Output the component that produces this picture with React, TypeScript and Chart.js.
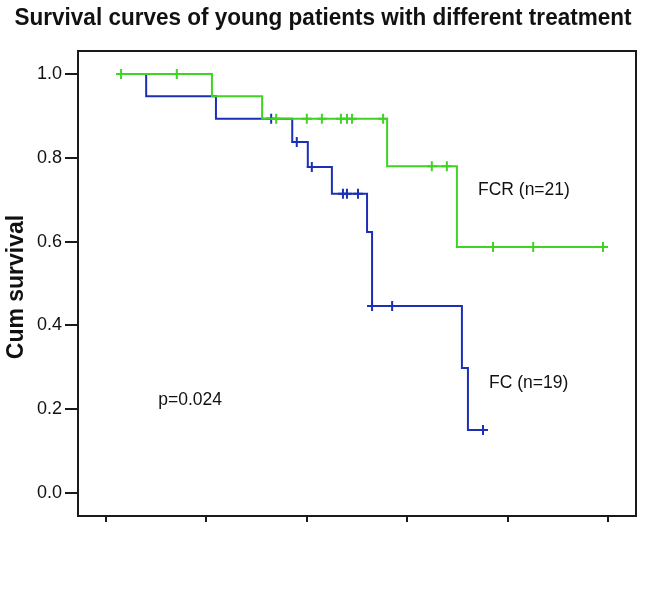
import React, { useEffect, useRef } from "react";
import { Chart, registerables } from "chart.js";

Chart.register(...registerables);

// ---- data ----
const chartTitle = "Survival curves of young patients with different treatment";
const yAxisTitle = "Cum survival";
const xTickValues = [0, 20, 40, 60, 80, 100];
const yTickValues = [0, 0.2, 0.4, 0.6, 0.8, 1.0];

// FCR group (green)
const fcrTimes = [2.4, 21.1, 31.1, 56.0, 69.9, 99.0];
const fcrSurvival = [1.0, 0.947, 0.893, 0.78, 0.587, 0.587];
const fcrCensorTimes = [3.0, 14.1, 33.9, 40.0, 43.0, 46.8, 48.0, 49.0, 55.2, 64.9, 67.9, 77.1, 85.1, 99.0];

// FC group (blue)
const fcTimes = [2.4, 8.0, 21.9, 37.1, 40.2, 45.0, 52.0, 53.0, 70.9, 72.1, 75.1];
const fcSurvival = [1.0, 0.947, 0.893, 0.838, 0.778, 0.714, 0.623, 0.446, 0.298, 0.15, 0.15];
const fcCensorTimes = [32.9, 38.0, 41.0, 47.2, 48.0, 50.2, 53.0, 57.0, 75.1];

const noteTexts = ["FCR (n=21)", "FC (n=19)", "p=0.024"];

const GREEN = "#3fd423";
const BLUE = "#1b30b5";

function stepValue(times: number[], surv: number[], t: number): number {
  let v = surv[0];
  for (let i = 0; i < times.length; i++) {
    if (times[i] <= t + 1e-9) v = surv[i];
  }
  return v;
}

const framePlugin = {
  id: "frameAndNotes",
  afterDraw(chart: any) {
    const { ctx, chartArea, scales } = chart;
    const { left, top, right, bottom } = chartArea;
    ctx.save();
    ctx.strokeStyle = "#1a1a1a";
    ctx.lineWidth = 2;
    ctx.strokeRect(left, top, right - left, bottom - top);

    // annotations anchored in data coordinates
    const xs = scales.x;
    const ys = scales.y;
    const anchors = [
      { x: 74.1, y: 0.723 },
      { x: 76.3, y: 0.263 },
      { x: 10.4, y: 0.222 },
    ];
    ctx.fillStyle = "#111";
    ctx.textAlign = "left";
    ctx.textBaseline = "middle";
    ctx.font = "17.5px 'Liberation Sans', Arial, sans-serif";
    noteTexts.forEach((t, i) => {
      ctx.fillText(t, xs.getPixelForValue(anchors[i].x), ys.getPixelForValue(anchors[i].y));
    });

    // chart title (condensed to the reference width)
    ctx.save();
    ctx.font = "bold 23px 'Liberation Sans', Arial, sans-serif";
    ctx.textAlign = "center";
    const w = ctx.measureText(chartTitle).width;
    const sx = Math.min(1, 617 / w);
    ctx.translate(323, 19);
    ctx.scale(sx, 1);
    ctx.fillText(chartTitle, 0, 0);
    ctx.restore();

    // y axis title
    ctx.save();
    ctx.textAlign = "center";
    ctx.translate(17, 287);
    ctx.rotate(-Math.PI / 2);
    ctx.font = "bold 23px 'Liberation Sans', Arial, sans-serif";
    ctx.fillText(yAxisTitle, 0, 0);
    ctx.restore();
    ctx.restore();
  },
};

export default function App() {
  const ref = useRef<HTMLCanvasElement | null>(null);

  useEffect(() => {
    if (!ref.current) return;
    const fcrLine = fcrTimes.map((t, i) => ({ x: t, y: fcrSurvival[i] }));
    const fcLine = fcTimes.map((t, i) => ({ x: t, y: fcSurvival[i] }));
    const fcrCens = fcrCensorTimes.map((t) => ({ x: t, y: stepValue(fcrTimes, fcrSurvival, t) }));
    const fcCens = fcCensorTimes.map((t) => ({ x: t, y: stepValue(fcTimes, fcSurvival, t) }));

    const chart = new Chart(ref.current, {
      type: "line",
      data: {
        datasets: [
          {
            label: "FCR",
            data: fcrLine,
            stepped: "before",
            borderColor: GREEN,
            borderWidth: 2,
            pointRadius: 0,
            fill: false,
          } as any,
          {
            type: "scatter",
            label: "FCR censored",
            data: fcrCens,
            pointStyle: "cross",
            pointRadius: 5,
            borderColor: GREEN,
            backgroundColor: GREEN,
            borderWidth: 2,
            showLine: false,
          } as any,
          {
            label: "FC",
            data: fcLine,
            stepped: "before",
            borderColor: BLUE,
            borderWidth: 2,
            pointRadius: 0,
            fill: false,
          } as any,
          {
            type: "scatter",
            label: "FC censored",
            data: fcCens,
            pointStyle: "cross",
            pointRadius: 5,
            borderColor: BLUE,
            backgroundColor: BLUE,
            borderWidth: 2,
            showLine: false,
          } as any,
        ],
      },
      options: {
        animation: false,
        responsive: false,
        events: [],
        layout: { padding: { left: 0, right: 10, top: 51, bottom: 0 } },
        plugins: {
          legend: { display: false },
          tooltip: { enabled: false },
          title: { display: false },
        },
        scales: {
          x: {
            type: "linear",
            min: -5.58,
            max: 105.58,
            afterBuildTicks: (s: any) => {
              s.ticks = xTickValues.map((v) => ({ value: v }));
            },
            afterFit: (s: any) => {
              s.height = 85;
            },
            ticks: { display: false },
            grid: {
              display: true,
              drawOnChartArea: false,
              drawTicks: true,
              tickLength: 6,
              color: "#1a1a1a",
              lineWidth: 2,
            },
            border: { display: false },
          },
          y: {
            type: "linear",
            min: -0.055,
            max: 1.055,
            afterBuildTicks: (s: any) => {
              s.ticks = yTickValues.map((v) => ({ value: v }));
            },
            afterFit: (s: any) => {
              s.width = 78;
            },
            ticks: {
              padding: 3,
              color: "#111",
              font: { family: "'Liberation Sans', Arial, sans-serif", size: 18 },
              callback: (v: any) => Number(v).toFixed(1),
            },
            grid: {
              display: true,
              drawOnChartArea: false,
              drawTicks: true,
              tickLength: 13,
              color: "#1a1a1a",
              lineWidth: 2,
            },
            border: { display: false },
          },
        },
      },
      plugins: [framePlugin],
    });
    return () => chart.destroy();
  }, []);

  return (
    <div style={{ position: "absolute", left: 0, top: 0, width: 646, height: 601, background: "#fff" }}>
      <canvas ref={ref} width={646} height={601} />
    </div>
  );
}
